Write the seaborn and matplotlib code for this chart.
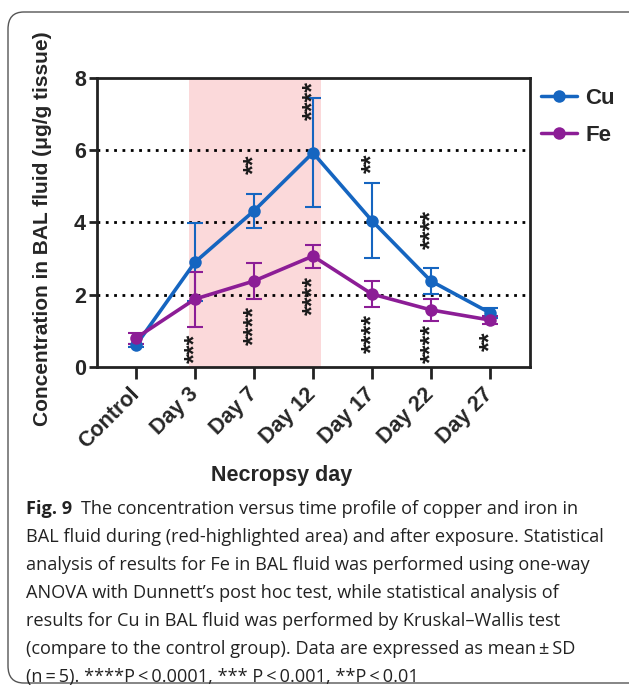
import numpy as np
import pandas as pd
import seaborn as sns
import matplotlib.pyplot as plt
from matplotlib.patches import FancyBboxPatch

# Necropsy groups and measured concentrations (mean and SD, n = 5)
groups = ["Control", "Day 3", "Day 7", "Day 12", "Day 17", "Day 22", "Day 27"]
cu_mean = [0.60, 2.90, 4.32, 5.93, 4.05, 2.38, 1.50]
cu_sd = [0.05, 1.08, 0.47, 1.51, 1.03, 0.36, 0.13]
fe_mean = [0.80, 1.88, 2.38, 3.07, 2.02, 1.58, 1.30]
fe_sd = [0.15, 0.76, 0.50, 0.32, 0.36, 0.30, 0.12]

# Significance marks (group index, y position, label)
cu_sig = [(2, 5.60, "**"), (3, 7.37, "****"), (4, 5.65, "**"), (5, 3.80, "****")]
fe_sig = [(1, 0.52, "***"), (2, 1.16, "****"), (3, 1.97, "****"),
          (4, 0.94, "****"), (5, 0.66, "****"), (6, 0.72, "**")]

caption_bold = "Fig. 9"
caption_lines = [
    "The concentration versus time profile of copper and iron in",
    "BAL fluid during (red-highlighted area) and after exposure. Statistical",
    "analysis of results for Fe in BAL fluid was performed using one-way",
    "ANOVA with Dunnett\u2019s post hoc test, while statistical analysis of",
    "results for Cu in BAL fluid was performed by Kruskal\u2013Wallis test",
    "(compare to the control group). Data are expressed as mean\u2009\u00b1\u2009SD",
    "(n\u2009=\u20095). ****P\u2009<\u20090.0001, *** P\u2009<\u20090.001, **P\u2009<\u20090.01",
]

sns.set_theme(style="white")
plt.rcParams["font.family"] = ["Liberation Sans", "DejaVu Sans"]

CU_COLOR = "#1565c0"
FE_COLOR = "#8c1d96"

x = np.arange(len(groups))
df = pd.DataFrame({
    "pos": np.concatenate([x, x]),
    "value": cu_mean + fe_mean,
    "sd": cu_sd + fe_sd,
    "metal": ["Cu"] * len(groups) + ["Fe"] * len(groups),
})

fig = plt.figure(figsize=(6.29, 6.87), dpi=100)
ax = fig.add_axes([0.1542, 0.4658, 0.6884, 0.4207])

# Exposure period
ax.axvspan(0.9, 3.13, color="#fbd9da", lw=0, zorder=0)

# Dotted reference lines
for yv in (2, 4, 6):
    ax.axhline(yv, color="black", ls=(0, (1, 2.0)), lw=2.0, zorder=1)

for metal, color in (("Cu", CU_COLOR), ("Fe", FE_COLOR)):
    sub = df[df["metal"] == metal]
    ax.errorbar(sub["pos"], sub["value"], yerr=sub["sd"], fmt="none",
                ecolor=color, elinewidth=1.5, capsize=6, capthick=1.5, zorder=3)

sns.lineplot(data=df, x="pos", y="value", hue="metal",
             palette={"Cu": CU_COLOR, "Fe": FE_COLOR},
             marker="o", markersize=9, markeredgewidth=0,
             linewidth=2.6, ax=ax, zorder=4, legend=True)
for line, lw in zip(ax.get_lines()[-2:], (2.5, 3.0)):
    line.set_linewidth(lw)

for i, yv, lab in cu_sig + fe_sig:
    ax.text(i, yv, lab, rotation=90, ha="center", va="center",
            fontsize=18, fontweight="bold", color="#1a1a1a", zorder=5)

ax.set_xlim(-0.66, 6.68)
ax.set_ylim(0, 8)
ax.set_yticks([0, 2, 4, 6, 8])
ax.set_xticks(x)
ax.set_xticklabels(groups, rotation=45, ha="right", va="center",
                   rotation_mode="anchor", fontsize=15.5, fontweight="bold")
for t in ax.get_yticklabels():
    t.set_fontsize(15.5)
    t.set_fontweight("bold")
ax.tick_params(axis="y", length=6, width=2, pad=2, left=True, color="#222222")
ax.tick_params(axis="x", length=8.5, width=2, pad=9, bottom=True, color="#222222")
for sp in ax.spines.values():
    sp.set_color("#222222")
    sp.set_linewidth(2)

ax.set_xlabel("Necropsy day", fontsize=15.5, fontweight="bold", va="center")
ax.xaxis.set_label_coords(0.427, -0.377)
ax.set_ylabel("Concentration in BAL fluid (\u03bcg/g tissue)", fontsize=15,
              fontweight="bold", va="center")
ax.yaxis.set_label_coords(-0.127, 0.478)

leg = ax.legend(loc="upper left", bbox_to_anchor=(1.0, 1.004), frameon=False,
                fontsize=16, handlelength=1.6, handletextpad=0.38,
                labelspacing=0.72, borderaxespad=0.3, borderpad=0.2)
for t in leg.get_texts():
    t.set_fontweight("bold")
for h in leg.legend_handles:
    h.set_linewidth(2.5)
    h.set_markersize(9)

# Figure frame with rounded corner
frame = FancyBboxPatch((8 / 629, 4 / 687), 640 / 629, 671 / 687,
                       boxstyle="round,pad=0,rounding_size=0.025",
                       transform=fig.transFigure, fill=False,
                       ec="#555555", lw=1.0, clip_on=False)
fig.patches.append(frame)

# Caption
cap_font = ["Open Sans", "DejaVu Sans"]
cap_size = 13.1
x0 = 26 / 629
y0 = 1 - 509 / 687
dy = 28 / 687
fig.canvas.draw()
renderer = fig.canvas.get_renderer()
tb = fig.text(x0, y0, caption_bold, fontsize=cap_size, fontweight="bold",
              family=cap_font, va="center", ha="left", color="#222222")
bb = tb.get_window_extent(renderer=renderer)
fig.text((bb.x1 + 9) / 629, y0, caption_lines[0], fontsize=cap_size,
         family=cap_font, va="center", ha="left", color="#222222")
for k, line in enumerate(caption_lines[1:], start=1):
    fig.text(x0, y0 - k * dy, line, fontsize=cap_size, family=cap_font,
             va="center", ha="left", color="#222222")

fig.savefig("out.png", dpi=100)
